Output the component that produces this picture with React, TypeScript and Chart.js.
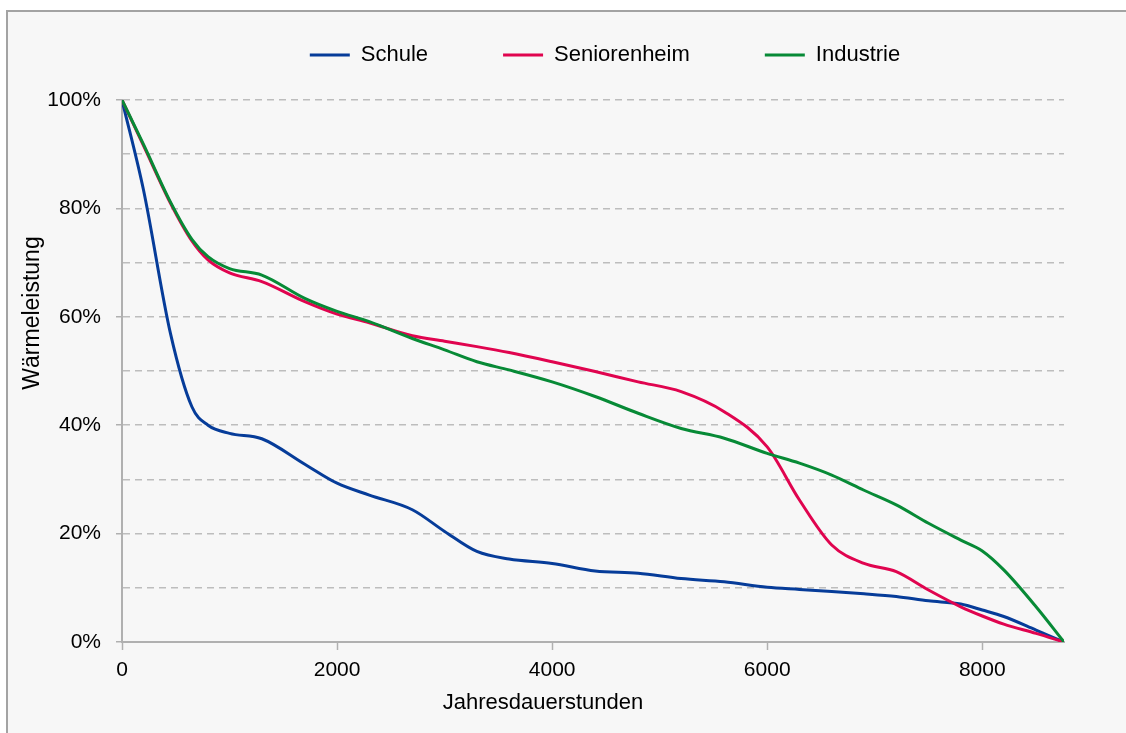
import React, { useEffect, useRef } from 'react';
import { Chart, registerables } from 'chart.js';

Chart.register(...registerables);

const FONT = "'Liberation Sans', Arial, Helvetica, sans-serif";

const SERIES_NAMES = ['Schule', 'Seniorenheim', 'Industrie'];
const X_TITLE = 'Jahresdauerstunden';
const Y_TITLE = 'Wärmeleistung';

const HOURS = [0, 200, 450, 650, 800, 1000, 1300, 1700, 2000, 2300, 2700, 3000, 3300, 3600, 4000, 4400, 4800, 5200, 5600, 6000, 6300, 6600, 6900, 7200, 7500, 7800, 8000, 8200, 8500, 8760];

const SCHULE = [100, 83.4, 57.0, 43.4, 40.0, 38.5, 37.5, 32.8, 29.3, 27.1, 24.4, 20.4, 16.7, 15.3, 14.5, 13.1, 12.7, 11.7, 11.1, 10.1, 9.7, 9.3, 8.9, 8.4, 7.6, 7.0, 5.9, 4.7, 2.2, 0];

const SENIORENHEIM = [100, 91.6, 81.0, 74.0, 70.5, 68.1, 66.5, 62.8, 60.5, 58.9, 56.5, 55.5, 54.5, 53.4, 51.7, 49.9, 48.0, 46.2, 42.5, 36.0, 26.2, 17.9, 14.5, 13.0, 9.6, 6.5, 4.8, 3.3, 1.6, 0];

const INDUSTRIE = [100, 91.8, 81.2, 74.3, 71.1, 68.9, 67.7, 63.4, 61.0, 59.1, 56.0, 53.9, 51.7, 50.2, 48.0, 45.3, 42.2, 39.4, 37.6, 34.8, 33.0, 30.8, 28.0, 25.3, 21.9, 18.8, 16.8, 13.3, 6.5, 0];

const X_MAX = 8760;
const X_TICKS = [0, 2000, 4000, 6000, 8000];
const Y_STEP = 10;
const Y_LABEL_STEP = 20;

const COLORS = ['#063c99', '#e0044f', '#078a36'];
const AXIS_GRAY = '#b0b0b0';
const GRID_GRAY = '#bdbdbd';

const toPoints = (vals: number[]) => HOURS.map((h, i) => ({ x: h, y: vals[i] }));

const axisTitles = {
  id: 'axisTitles',
  afterDraw(chart: any) {
    const { ctx } = chart;
    ctx.save();
    ctx.fillStyle = '#000';
    ctx.textAlign = 'center';
    ctx.textBaseline = 'alphabetic';
    ctx.font = `22px ${FONT}`;
    ctx.fillText(X_TITLE, 543, 709);
    ctx.translate(39, 313);
    ctx.rotate(-Math.PI / 2);
    ctx.font = `23px ${FONT}`;
    ctx.fillText(Y_TITLE, 0, 0);
    ctx.restore();
  },
};

export default function App() {
  const ref = useRef<HTMLCanvasElement>(null);

  useEffect(() => {
    if (!ref.current) return;
    const values = [SCHULE, SENIORENHEIM, INDUSTRIE];
    const orders = [2, 1, 0];
    const chart = new Chart(ref.current, {
      type: 'line',
      data: {
        datasets: SERIES_NAMES.map((name, i) => ({
          label: name,
          data: toPoints(values[i]),
          borderColor: COLORS[i],
          backgroundColor: COLORS[i],
          borderWidth: 3,
          pointRadius: 0,
          pointHoverRadius: 0,
          cubicInterpolationMode: 'monotone' as const,
          fill: false,
          order: orders[i],
          xAxisID: 'x',
          yAxisID: 'y',
        })),
      },
      options: {
        responsive: false,
        animation: false,
        devicePixelRatio: 1,
        layout: { padding: { top: -31, left: 40, right: 0, bottom: 0 } },
        plugins: {
          tooltip: { enabled: false },
          title: { display: false },
          legend: {
            display: true,
            position: 'top',
            labels: {
              usePointStyle: true,
              pointStyle: 'line',
              pointStyleWidth: 40,
              padding: 75,
              color: '#000',
              font: { family: FONT, size: 22 },
              sort: (a: any, b: any) => a.datasetIndex - b.datasetIndex,
            },
          },
        },
        scales: {
          x: {
            type: 'linear',
            position: 'bottom',
            min: 0,
            max: X_MAX,
            afterBuildTicks: (s: any) => {
              s.ticks = X_TICKS.map((v) => ({ value: v }));
            },
            ticks: {
              color: '#000',
              padding: 8,
              font: { family: FONT, size: 21 },
              maxRotation: 0,
              autoSkip: false,
              callback: (v: any) => String(v),
            },
            grid: {
              drawOnChartArea: false,
              drawTicks: true,
              tickLength: 8,
              tickColor: AXIS_GRAY,
              tickWidth: 1.5,
            },
            border: { display: true, color: AXIS_GRAY, width: 2 },
            afterFit: (s: any) => { s.height = 91; },
          },
          xTop: {
            type: 'linear',
            position: 'top',
            min: 0,
            max: 1,
            display: true,
            grid: { display: false, drawTicks: false },
            ticks: { display: false },
            border: { display: false },
            afterFit: (s: any) => { s.height = 24; },
          },
          y: {
            type: 'linear',
            position: 'left',
            min: 0,
            max: 100,
            ticks: {
              stepSize: Y_STEP,
              color: '#000',
              padding: 15,
              font: { family: FONT, size: 21 },
              callback: (v: any) => (Number(v) % Y_LABEL_STEP === 0 ? `${v}%` : ''),
            },
            grid: {
              color: GRID_GRAY,
              lineWidth: 1.5,
              drawTicks: true,
              tickLength: 6,
              tickWidth: 1.5,
              tickColor: (c: any) => (c.tick && c.tick.value % Y_LABEL_STEP === 0 ? AXIS_GRAY : 'rgba(0,0,0,0)'),
            },
            border: { display: true, color: AXIS_GRAY, width: 2, dash: [7, 5] },
            afterFit: (s: any) => { s.width = 82; },
          },
          yRight: {
            type: 'linear',
            position: 'right',
            min: 0,
            max: 1,
            display: true,
            grid: { display: false, drawTicks: false },
            ticks: { display: false },
            border: { display: false },
            afterFit: (s: any) => { s.width = 106; },
          },
        },
      } as any,
      plugins: [axisTitles],
    });
    return () => chart.destroy();
  }, []);

  return (
    <div style={{ position: 'fixed', left: 0, top: 0, width: 1126, height: 733, background: '#ffffff', overflow: 'hidden' }}>
      <div
        style={{
          position: 'absolute',
          left: 6,
          top: 10,
          width: 1200,
          height: 800,
          boxSizing: 'border-box',
          border: '2px solid #a3a3a3',
          background: '#f7f7f7',
        }}
      />
      <canvas ref={ref} width={1170} height={733} style={{ position: 'absolute', left: 0, top: 0, width: 1170, height: 733 }} />
    </div>
  );
}
